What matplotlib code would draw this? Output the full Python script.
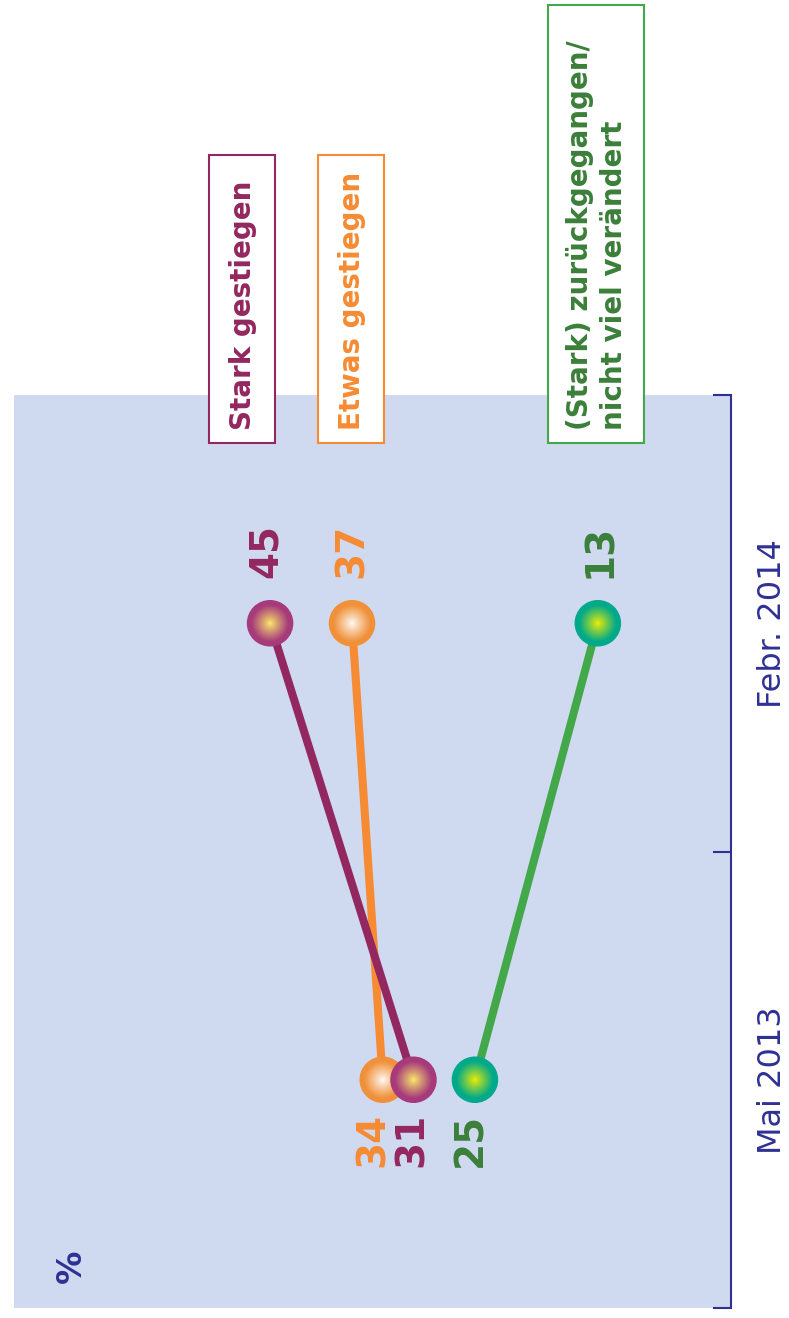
import numpy as np
import matplotlib
matplotlib.use("Agg")
import matplotlib.pyplot as plt
from matplotlib.patches import Rectangle
from matplotlib.colors import to_rgb

# ---- data ----
periods = ["Mai 2013", "Febr. 2014"]
series_names = ["Stark gestiegen", "Etwas gestiegen", "(Stark) zurückgegangen/\nnicht viel verändert"]
stark = [31, 45]
etwas = [34, 37]
zurueck = [25, 13]

line_colors = ["#93275f", "#f68b33", "#43a84a"]
label_colors = ["#93275f", "#f68b33", "#3b7f3a"]
marker_outer = ["#a63a7b", "#f0913a", "#00a98a"]
marker_inner = ["#fff06a", "#ffffff", "#f7f000"]
navy = "#2e3192"
bg = "#cfd9ef"

W, H = 789, 1318
fig = plt.figure(figsize=(W / 100, H / 100), dpi=100)
fig.patch.set_facecolor("white")

def fx(x):
    return x / W

def fy(y):
    return 1 - y / H

ax = fig.add_axes([fx(14), fy(1308), (731 - 14) / W, (1308 - 395) / H])
ax.set_facecolor(bg)
ax.set_xlim(70, 0)
ax.set_ylim(-0.5, 1.5)

for s in ["top", "bottom", "left"]:
    ax.spines[s].set_visible(False)
ax.spines["right"].set_color(navy)
ax.spines["right"].set_linewidth(1.5)

ax.set_xticks([])
ax.yaxis.tick_right()
ax.set_yticks([-0.5, 0.5, 1.5])
ax.set_yticklabels([])
ax.tick_params(axis="y", which="major", direction="in", length=13, width=1.5, color=navy)
ax.set_yticks([0, 1], minor=True)
ax.set_yticklabels(periods, minor=True, rotation=90, fontsize=23, color=navy,
                   va="center")
ax.tick_params(axis="y", which="minor", length=0, pad=19, labelright=True, labelleft=False)

ypos = np.arange(len(periods))
all_series = [stark, etwas, zurueck]
line_z = [2.2, 2.0, 2.0]

for i, vals in enumerate(all_series):
    ax.plot(vals, ypos, color=line_colors[i], lw=5.8, zorder=line_z[i], solid_capstyle="butt")

# gradient markers (purple drawn on top)
n = 30
size = 33.5
marker_base = [4.0, 3.0, 3.0]
for i, vals in enumerate(all_series):
    co = np.array(to_rgb(marker_outer[i]))
    ci = np.array(to_rgb(marker_inner[i]))
    for k in range(n):
        r = 1 - k / n
        t = min(1.0, r ** 0.9 * 1.2)
        col = ci + (co - ci) * t
        ax.scatter(vals, ypos, s=(size * r) ** 2, color=col, edgecolors="none",
                   zorder=marker_base[i] + k * 0.01)

# value labels (pixel nudges in x to avoid collisions, as in the reference)
x_nudge = [[-2, -4], [-10, 0], [-5, 2]]
for i, vals in enumerate(all_series):
    for j, v in enumerate(vals):
        dy = -60 if j == 0 else 72
        ax.annotate(str(v), (v, ypos[j]), xytext=(x_nudge[i][j] * 0.72, dy * 0.72),
                    textcoords="offset points",
                    rotation=90, ha="center", va="center", fontsize=28, fontweight="bold",
                    color=label_colors[i], zorder=5)

fig.text(fx(71), fy(1266), "%", rotation=90, ha="center", va="center",
         fontsize=24, fontweight="bold", color=navy)

# legend boxes
boxes = [(209, 155, 275, 443), (318, 155, 384, 443), (548, 5, 644, 443)]
for i, (x0, y0, x1, y1) in enumerate(boxes):
    rect = Rectangle((fx(x0), fy(y1)), (x1 - x0) / W, (y1 - y0) / H,
                     transform=fig.transFigure, facecolor="white",
                     edgecolor=line_colors[i], lw=1.5, zorder=5)
    fig.add_artist(rect)
    fig.text(fx((x0 + x1) / 2 + 1), fy(430), series_names[i], rotation=90,
             ha="center", va="bottom", multialignment="left", linespacing=1.3,
             fontsize=20, fontweight="bold", color=label_colors[i], zorder=6)

fig.savefig("out.png", dpi=100)
